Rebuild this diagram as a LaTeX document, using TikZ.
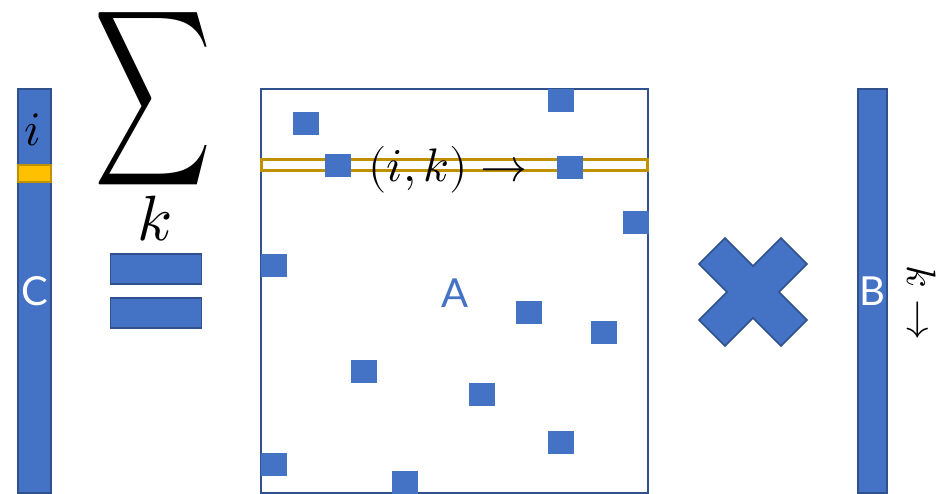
\documentclass[tikz,border=0pt]{standalone}
\usepackage{fontspec}
\usepackage{unicode-math}
\setmathfont{Latin Modern Math}
\newfontfamily\labelfont{Lato}
\definecolor{cellblue}{HTML}{4472C4}
\definecolor{edgeblue}{HTML}{2F528F}
\definecolor{rowgold}{HTML}{FFC000}
\definecolor{edgegold}{HTML}{BF9000}
\begin{document}
\begin{tikzpicture}[x=1pt, y=-1pt, line width=1.5pt,
    vecbar/.style={draw=edgeblue, fill=cellblue, inner sep=0pt, text=white,
        font=\fontsize{40}{40}\selectfont\labelfont},
    entry/.style={fill=cellblue, inner sep=0pt, minimum width=26pt, minimum height=23pt},
    eqbar/.style={draw=edgeblue, fill=cellblue, inner sep=0pt, minimum width=91pt, minimum height=30pt},
    every node/.style={inner sep=0pt}]
    \useasboundingbox (0,0) rectangle (941,494);
    % left vector C
    \node[vecbar, minimum width=33pt, minimum height=404pt] (C) at (34.5,291) {C};
    \node[draw=edgegold, fill=rowgold, minimum width=33pt, minimum height=17pt] (C-i) at (34.5,173.5) {};
    \node[font=\fontsize{48}{48}\selectfont] (i-lab) at (33,130) {$i$};
    % sum over k
    \node[font=\fontsize{123}{123}\selectfont] (sum) at (153.5,98.5) {\scalebox{0.66}[1]{$\displaystyle\sum$}};
    \node[font=\fontsize{64}{64}\selectfont] (k-lab) at (155,219) {$k$};
    \node[eqbar] (eq-1) at (156,269) {};
    \node[eqbar] (eq-2) at (156,313) {};
    % matrix A
    \node[draw=edgeblue, line width=2pt, minimum width=387pt, minimum height=404pt] (A) at (454.5,291) {};
    \node[draw=edgegold, line width=2.5pt, minimum width=386pt, minimum height=11pt] (row) at (454.5,165) {};
    \foreach \idx/\x/\y in {1/306/123.5, 2/338/165.5, 3/561/100.5, 4/570/167.5,
        5/636/222.5, 6/274/265.5, 7/529/312.5, 8/604/332.5, 9/364/371.5,
        10/482/394.5, 11/561/442.5, 12/274/464.5, 13/405/482.5}
        \node[entry] (a-\idx) at (\x,\y) {};
    \node[font=\fontsize{47}{47}\selectfont] (ik) at (448,170) {$(i,k)\rightarrow$};
    \node[text=cellblue, font=\fontsize{40}{40}\selectfont\labelfont] (A-lab) at (455,293) {A};
    % times
    \begin{scope}[shift={(753,292)}]
        \draw[draw=edgeblue, fill=cellblue] (0,-26) -- (28,-54) -- (54,-28) -- (26,0)
            -- (54,28) -- (28,54) -- (0,26) -- (-28,54) -- (-54,28) -- (-26,0)
            -- (-54,-28) -- (-28,-54) -- cycle;
    \end{scope}
    % right vector B
    \node[vecbar, minimum width=29pt, minimum height=404pt] (B) at (872.5,291) {B};
    \node[rotate=-90, font=\fontsize{41}{41}\selectfont] (k-arrow) at (921,303) {$k\rightarrow$};
\end{tikzpicture}
\end{document}
